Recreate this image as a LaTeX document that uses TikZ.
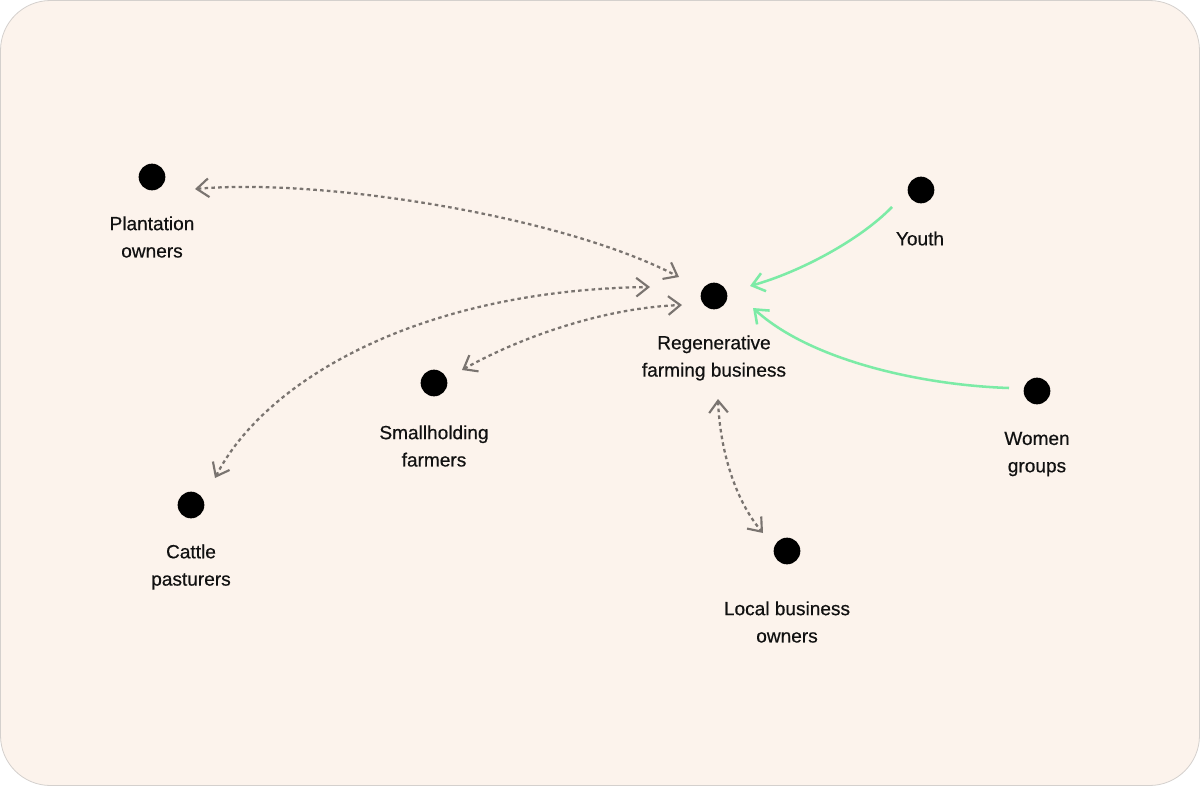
\documentclass[tikz,border=0pt]{standalone}
\usepackage{fontspec}
\setmainfont{Liberation Sans}
\newfontfamily\lblfont[FakeBold=0.5]{Liberation Sans}
\usetikzlibrary{arrows.meta,calc}
\definecolor{bgfill}{HTML}{FCF3EC}
\definecolor{bgline}{HTML}{D4D0CD}
\definecolor{linkgray}{HTML}{7A7470}
\definecolor{linkgreen}{HTML}{7CEBA6}
\definecolor{txt}{HTML}{111111}
\tikzset{
  dot/.style={circle,fill=black,draw=none,minimum size=20pt,inner sep=0pt},
  lbl/.style={align=center,text=txt,font=\lblfont\fontsize{14.3pt}{20.5pt}\selectfont,inner sep=0pt},
  dotlink/.style={draw=linkgray,line width=1.7pt,dash pattern=on 2.7pt off 2.4pt,
    {Straight Barb[length=9pt,width=14pt,line width=1.6pt]}-{Straight Barb[length=9pt,width=14pt,line width=1.6pt]}},
  greenlink/.style={draw=linkgreen,line width=1.9pt,
    -{Straight Barb[length=9pt,width=14pt,line width=1.9pt]}}
}
\begin{document}
\begin{tikzpicture}[x=0.75pt,y=-0.75pt]
\useasboundingbox (0,0) rectangle (1200,786);
\draw[fill=bgfill,draw=bgline,line width=0.6pt,rounded corners=37.5pt] (0.5,0.5) rectangle (1199.5,785.5);

% dots
\node[dot] (pl) at (152,177) {};
\node[dot] (yo) at (921,190) {};
\node[dot] (rf) at (714,296) {};
\node[dot] (sm) at (434,383) {};
\node[dot] (wg) at (1037,391) {};
\node[dot] (ca) at (191,505) {};
\node[dot] (lb) at (787,551) {};

% labels
\node[lbl] (pllab) at (152,237) {Plantation\\owners};
\node[lbl] (yolab) at (920,238.5) {Youth};
\node[lbl] (rflab) at (714,358) {Regenerative\\farming business};
\node[lbl] (smlab) at (434,446) {Smallholding\\farmers};
\node[lbl] (wglab) at (1037,454) {Women\\groups};
\node[lbl] (calab) at (191,567) {Cattle\\pasturers};
\node[lbl] (lblab) at (787,622) {Local business\\owners};

% dotted two-way links
\draw[dotlink] ($(pl)+(43,12)$) .. controls (320,178) and (560,215) .. ($(rf)+(-35,-19)$);
\draw[dotlink] ($(ca)+(24,-27)$) .. controls (265,380) and (420,290) .. ($(rf)+(-64,-9)$);
\draw[dotlink] ($(sm)+(28,-13)$) .. controls (515,340) and (600,308) .. ($(rf)+(-32,9)$);
\draw[dotlink] ($(rf)+(4,103)$) .. controls (720,450) and (735,500) .. ($(lb)+(-24,-18)$);

% green one-way links
\draw[greenlink] ($(yo)+(-29,17)$) .. controls (860,240) and (800,272) .. ($(rf)+(36,-10)$);
\draw[greenlink] ($(wg)+(-28,-3)$) .. controls (920,385) and (810,360) .. ($(rf)+(39,12)$);
\end{tikzpicture}
\end{document}
